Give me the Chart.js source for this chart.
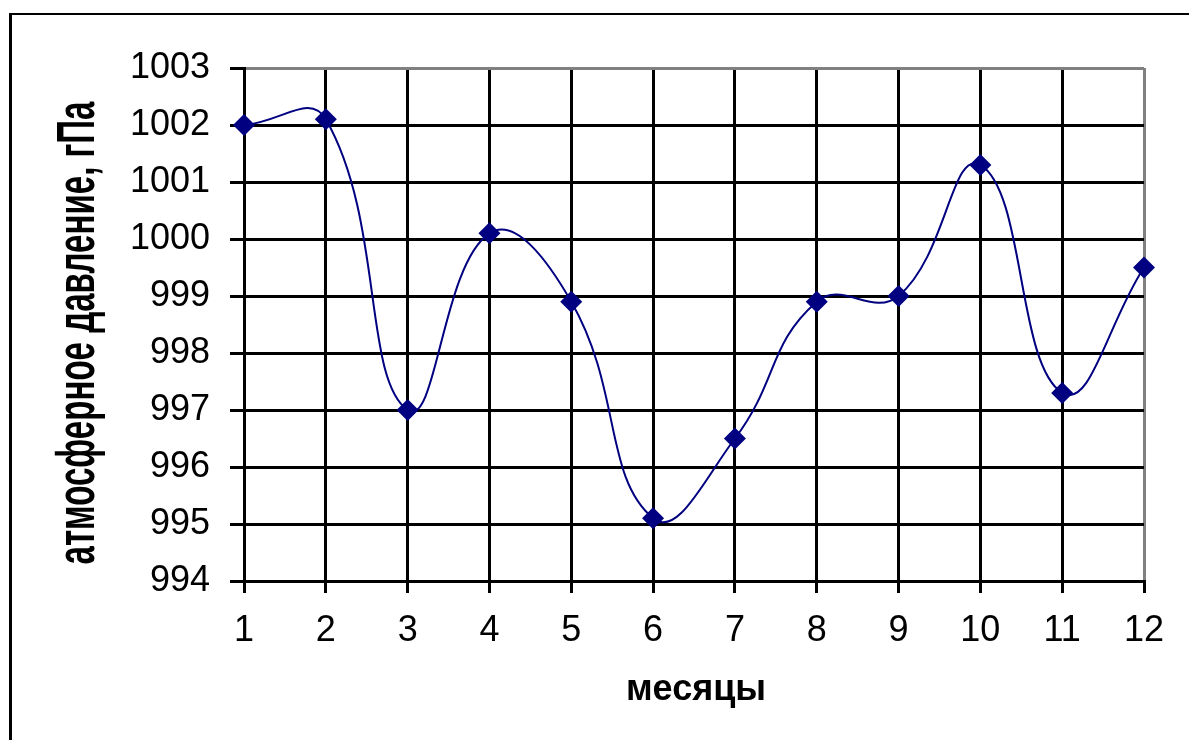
<!DOCTYPE html>
<html>
<head>
<meta charset="utf-8">
<script src="https://cdn.jsdelivr.net/npm/chart.js@4/dist/chart.umd.min.js"></script>
<style>
  html, body { margin: 0; padding: 0; background: #fff; overflow: hidden; }
  canvas { display: block; }
</style>
</head>
<body>
<canvas id="chart" width="1189" height="740"></canvas>
<script>
// данные
const months = ['1', '2', '3', '4', '5', '6', '7', '8', '9', '10', '11', '12'];
const pressure = [1002.0, 1002.1, 997.0, 1000.1, 998.9, 995.1, 996.5, 998.9, 999.0, 1001.3, 997.3, 999.5];
const yMin = 994;
const yMax = 1003;

const xTitle = 'месяцы';
const yTitle = 'атмосферное давление, гПа';

const FONT = "'Liberation Sans', Arial, sans-serif";

// рамка и подписи осей
const decor = {
    id: 'decor',
    afterDraw(chart) {
        const ctx = chart.ctx;
        const area = chart.chartArea;
        ctx.save();
        ctx.fillStyle = '#000';
        ctx.fillRect(9, 13, 3, 740);
        ctx.fillRect(9, 13, 1189, 2);

        // подпись оси X
        ctx.font = 'bold 36px ' + FONT;
        ctx.textAlign = 'center';
        ctx.textBaseline = 'alphabetic';
        ctx.fillText(xTitle, (area.left + area.right) / 2 + 2, 700);

        // подпись оси Y (растянута, как в оригинале)
        ctx.font = 'bold 36px ' + FONT;
        const w = ctx.measureText(yTitle).width;
        ctx.translate(94, 333);
        ctx.rotate(-Math.PI / 2);
        ctx.scale(463 / w, 1.5);
        ctx.textAlign = 'center';
        ctx.fillText(yTitle, 0, 0);
        ctx.restore();
    }
};

new Chart(document.getElementById('chart'), {
    type: 'line',
    data: {
        labels: months,
        datasets: [{
            data: pressure,
            borderColor: '#000080',
            backgroundColor: '#000080',
            borderWidth: 2,
            tension: 0.45,
            pointStyle: 'rectRot',
            pointRadius: 11,
            pointHoverRadius: 11,
            pointBorderWidth: 0,
            clip: false
        }]
    },
    options: {
        responsive: false,
        animation: false,
        devicePixelRatio: 1,
        layout: { padding: { left: 0, right: 45, top: 68, bottom: 0 } },
        plugins: {
            legend: { display: false },
            tooltip: { enabled: false }
        },
        scales: {
            x: {
                offset: false,
                afterFit: (scale) => { scale.height = 159; },
                grid: {
                    color: (c) => c.index === months.length - 1 ? '#808080' : '#000',
                    tickColor: '#000',
                    lineWidth: 3,
                    tickLength: 12,
                    offset: false
                },
                border: { color: '#000', width: 3 },
                ticks: {
                    color: '#000',
                    font: { family: FONT, size: 36 },
                    padding: 16,
                    autoSkip: false,
                    maxRotation: 0
                }
            },
            y: {
                min: yMin,
                max: yMax,
                afterFit: (scale) => { scale.width = 244; },
                grid: {
                    color: (c) => c.tick && c.tick.value === yMax ? '#808080' : '#000',
                    tickColor: '#000',
                    lineWidth: 3,
                    tickLength: 14
                },
                border: { color: '#000', width: 3 },
                ticks: {
                    stepSize: 1,
                    color: '#000',
                    font: { family: FONT, size: 36 },
                    padding: 20,
                    callback: (v) => String(v)
                }
            }
        }
    },
    plugins: [decor]
});
</script>
</body>
</html>
